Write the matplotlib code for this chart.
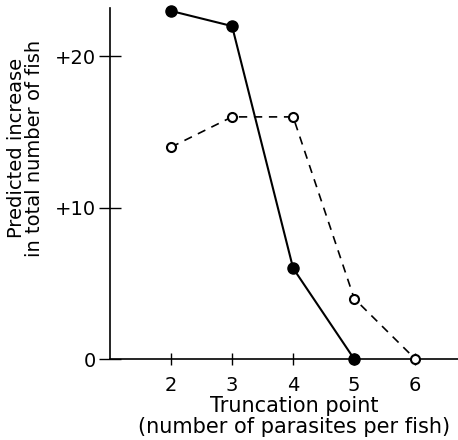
import matplotlib
matplotlib.use("Agg")
import matplotlib.pyplot as plt

# truncation point vs predicted increase in fish numbers
trunc_solid = [2, 3, 4, 5]
incr_solid = [23, 22, 6, 0]
trunc_open = [2, 3, 4, 5, 6]
incr_open = [14, 16, 16, 4, 0]
xticks = [2, 3, 4, 5, 6]
yticks = [0, 10, 20]
ytick_labels = ["0", "+10", "+20"]

plt.rcParams['font.family'] = ['DejaVu Sans']

fig = plt.figure(figsize=(4.58, 4.40), dpi=100)
ax = fig.add_axes([0.240, 0.184, 0.76, 0.798])

ax.plot(trunc_solid, incr_solid, color='black', lw=1.5, marker='o',
        ms=8, mfc='black', mec='black', clip_on=False, zorder=3)
ax.plot(trunc_open, incr_open, color='black', lw=1.2, ls=(0, (5, 4)),
        marker='o', ms=6.5, mfc='white', mec='black', mew=1.5,
        clip_on=False, zorder=3)

ax.set_xlim(1.0, 6.7)
ax.set_ylim(0, 23.2)
ax.spines['top'].set_visible(False)
ax.spines['right'].set_visible(False)
for s in ['left', 'bottom']:
    ax.spines[s].set_linewidth(1.2)

ax.set_xticks(xticks)
ax.set_yticks(yticks)
ax.set_yticklabels(ytick_labels)
ax.tick_params(axis='y', direction='inout', length=16, width=1, labelsize=14, pad=2)
ax.tick_params(axis='x', direction='inout', length=8, width=1, labelsize=14, pad=8)

ax.set_xlabel("Truncation point\n(number of parasites per fish)", fontsize=15,
              linespacing=1.05)
ax.xaxis.set_label_coords(0.53, -0.105)
ax.set_ylabel("Predicted increase\nin total number of fish", fontsize=14,
              linespacing=0.95)
ax.yaxis.set_label_coords(-0.19, 0.60)

fig.savefig("out.png", dpi=100)
